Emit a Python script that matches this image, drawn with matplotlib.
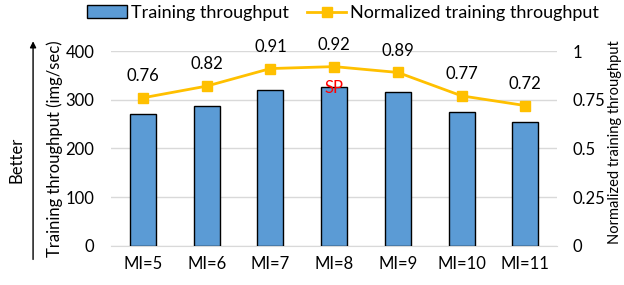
import matplotlib
matplotlib.use("Agg")
import matplotlib.pyplot as plt
import numpy as np

plt.rcParams['font.family'] = ['Lato', 'DejaVu Sans']

categories = ["MI=5", "MI=6", "MI=7", "MI=8", "MI=9", "MI=10", "MI=11"]
throughput = [271, 288, 320, 326, 315, 275, 254]
normalized = [0.76, 0.82, 0.91, 0.92, 0.89, 0.77, 0.72]
left_ticks = [0, 100, 200, 300, 400]
right_ticks = [0, 0.25, 0.5, 0.75, 1]
right_labels = ["0", "0.25", "0.5", "0.75", "1"]

fig = plt.figure(figsize=(6.24, 2.85), dpi=100)
ax = fig.add_axes([0.178, 0.137, 0.715, 0.684])
ax2 = ax.twinx()

x = np.arange(len(categories))
bars = ax.bar(x, throughput, width=0.41, color='#5B9BD5', edgecolor='black',
              linewidth=1.0, label='Training throughput', zorder=3)
ax.set_ylim(0, 400)
ax.set_xlim(-0.5, len(categories) - 0.5)
ax.set_yticks(left_ticks)
ax.grid(axis='y', color='#d9d9d9', linewidth=1, zorder=0)
ax.set_xticks(x)
ax.set_xticklabels(categories, fontsize=12)
ax.tick_params(axis='both', length=0, labelsize=12)
ax.tick_params(axis='x', pad=7)
ax.tick_params(axis='y', pad=12)
for s in ['top', 'right', 'left']:
    ax.spines[s].set_visible(False)
ax.spines['bottom'].set_color('#d9d9d9')
ax.set_ylabel('Training throughput (img/sec)', fontsize=12, labelpad=2)

line, = ax2.plot(x, normalized, color='#FFC000', linewidth=2, marker='s',
                 markersize=7, label='Normalized training throughput', zorder=4)
ax2.set_ylim(0, 1)
ax2.set_yticks(right_ticks)
ax2.set_yticklabels(right_labels)
ax2.tick_params(axis='y', length=0, labelsize=12, pad=11)
for s in ax2.spines.values():
    s.set_visible(False)
fig.text(0.986, 0.5, 'Normalized training throughput', rotation=90,
         ha='center', va='center', fontsize=10.5)

for xi, v in zip(x, normalized):
    ax2.annotate(f"{v:.2f}", (xi, v), xytext=(0, 10), textcoords='offset points',
                 ha='center', va='bottom', fontsize=12)
ax2.annotate("SP", (x[3], normalized[3]), xytext=(0, -10), textcoords='offset points',
             ha='center', va='top', fontsize=12, color='red')

fig.legend([bars, line], ['Training throughput', 'Normalized training throughput'],
           loc='upper center', bbox_to_anchor=(0.55, 1.04), ncol=2, frameon=False,
           fontsize=13, handlelength=2.2, columnspacing=1.0, handletextpad=0.2)

# "Better" arrow on the left
fig.patches.append(matplotlib.patches.FancyArrowPatch(
    (0.053, 0.08), (0.053, 0.865), transform=fig.transFigure,
    arrowstyle='-|>', mutation_scale=9, color='black', linewidth=1))
fig.text(0.026, 0.44, 'Better', rotation=90, ha='center', va='center', fontsize=12)

fig.savefig('out.png', dpi=100)
